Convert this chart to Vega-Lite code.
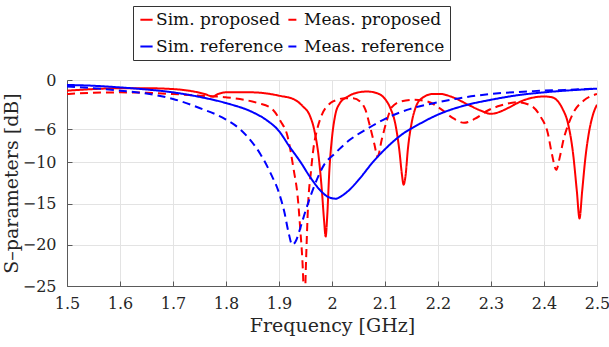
{
  "$schema": "https://vega.github.io/schema/vega-lite/v6.json",
  "width": 530,
  "height": 206,
  "autosize": "none",
  "padding": {"left": 67, "top": 80, "right": 12, "bottom": 61},
  "background": "white",
  "config": {
    "view": {"stroke": null},
    "font": "DejaVu Serif",
    "axis": {
      "labelFont": "DejaVu Serif",
      "titleFont": "DejaVu Serif",
      "labelFontSize": 16,
      "titleFontSize": 19,
      "titleFontWeight": "normal",
      "labelColor": "#262626",
      "titleColor": "#262626",
      "domainColor": "#5a5a5a",
      "tickColor": "#5a5a5a",
      "gridColor": "#e3e3e3",
      "gridWidth": 1,
      "tickSize": -5,
      "domainWidth": 1,
      "labelFlush": false
    },
    "legend": {
      "labelFont": "DejaVu Serif",
      "labelFontSize": 17,
      "labelColor": "#111111"
    }
  },
  "data": {
    "values": [
      {"f": 1.5, "s": -1.3, "series": "Sim. proposed"},
      {"f": 1.55, "s": -1.1, "series": "Sim. proposed"},
      {"f": 1.6, "s": -1.0, "series": "Sim. proposed"},
      {"f": 1.65, "s": -1.0, "series": "Sim. proposed"},
      {"f": 1.7, "s": -1.1, "series": "Sim. proposed"},
      {"f": 1.73, "s": -1.3, "series": "Sim. proposed"},
      {"f": 1.76, "s": -1.7, "series": "Sim. proposed"},
      {"f": 1.775, "s": -2.0, "series": "Sim. proposed"},
      {"f": 1.785, "s": -1.7, "series": "Sim. proposed"},
      {"f": 1.8, "s": -1.5, "series": "Sim. proposed"},
      {"f": 1.85, "s": -1.5, "series": "Sim. proposed"},
      {"f": 1.9, "s": -1.9, "series": "Sim. proposed"},
      {"f": 1.93, "s": -2.4, "series": "Sim. proposed"},
      {"f": 1.945, "s": -3.2, "series": "Sim. proposed"},
      {"f": 1.958, "s": -4.3, "series": "Sim. proposed"},
      {"f": 1.967, "s": -6.2, "series": "Sim. proposed"},
      {"f": 1.975, "s": -9.4, "series": "Sim. proposed"},
      {"f": 1.981, "s": -13.5, "series": "Sim. proposed"},
      {"f": 1.985, "s": -17.0, "series": "Sim. proposed"},
      {"f": 1.988, "s": -19.0, "series": "Sim. proposed"},
      {"f": 1.991, "s": -16.5, "series": "Sim. proposed"},
      {"f": 1.995, "s": -11.0, "series": "Sim. proposed"},
      {"f": 2.0, "s": -7.0, "series": "Sim. proposed"},
      {"f": 2.006, "s": -4.3, "series": "Sim. proposed"},
      {"f": 2.015, "s": -2.8, "series": "Sim. proposed"},
      {"f": 2.03, "s": -2.0, "series": "Sim. proposed"},
      {"f": 2.05, "s": -1.5, "series": "Sim. proposed"},
      {"f": 2.067, "s": -1.4, "series": "Sim. proposed"},
      {"f": 2.085, "s": -1.6, "series": "Sim. proposed"},
      {"f": 2.1, "s": -2.3, "series": "Sim. proposed"},
      {"f": 2.11, "s": -3.4, "series": "Sim. proposed"},
      {"f": 2.12, "s": -5.5, "series": "Sim. proposed"},
      {"f": 2.127, "s": -8.5, "series": "Sim. proposed"},
      {"f": 2.132, "s": -11.5, "series": "Sim. proposed"},
      {"f": 2.135, "s": -12.7, "series": "Sim. proposed"},
      {"f": 2.139, "s": -11.5, "series": "Sim. proposed"},
      {"f": 2.143, "s": -8.5, "series": "Sim. proposed"},
      {"f": 2.15, "s": -5.3, "series": "Sim. proposed"},
      {"f": 2.158, "s": -3.3, "series": "Sim. proposed"},
      {"f": 2.17, "s": -2.2, "series": "Sim. proposed"},
      {"f": 2.19, "s": -1.7, "series": "Sim. proposed"},
      {"f": 2.205, "s": -1.7, "series": "Sim. proposed"},
      {"f": 2.224, "s": -2.0, "series": "Sim. proposed"},
      {"f": 2.26, "s": -3.1, "series": "Sim. proposed"},
      {"f": 2.28, "s": -3.7, "series": "Sim. proposed"},
      {"f": 2.3, "s": -4.1, "series": "Sim. proposed"},
      {"f": 2.315, "s": -3.9, "series": "Sim. proposed"},
      {"f": 2.332, "s": -3.4, "series": "Sim. proposed"},
      {"f": 2.36, "s": -2.5, "series": "Sim. proposed"},
      {"f": 2.4, "s": -2.0, "series": "Sim. proposed"},
      {"f": 2.415, "s": -2.1, "series": "Sim. proposed"},
      {"f": 2.425, "s": -2.5, "series": "Sim. proposed"},
      {"f": 2.435, "s": -3.5, "series": "Sim. proposed"},
      {"f": 2.445, "s": -5.2, "series": "Sim. proposed"},
      {"f": 2.455, "s": -9.0, "series": "Sim. proposed"},
      {"f": 2.462, "s": -13.5, "series": "Sim. proposed"},
      {"f": 2.467, "s": -16.8, "series": "Sim. proposed"},
      {"f": 2.472, "s": -13.5, "series": "Sim. proposed"},
      {"f": 2.478, "s": -9.5, "series": "Sim. proposed"},
      {"f": 2.485, "s": -6.3, "series": "Sim. proposed"},
      {"f": 2.492, "s": -4.3, "series": "Sim. proposed"},
      {"f": 2.5, "s": -3.0, "series": "Sim. proposed"},

      {"f": 1.5, "s": -1.7, "series": "Meas. proposed"},
      {"f": 1.55, "s": -1.55, "series": "Meas. proposed"},
      {"f": 1.6, "s": -1.5, "series": "Meas. proposed"},
      {"f": 1.65, "s": -1.55, "series": "Meas. proposed"},
      {"f": 1.7, "s": -1.7, "series": "Meas. proposed"},
      {"f": 1.75, "s": -1.9, "series": "Meas. proposed"},
      {"f": 1.8, "s": -2.1, "series": "Meas. proposed"},
      {"f": 1.86, "s": -2.8, "series": "Meas. proposed"},
      {"f": 1.885, "s": -3.4, "series": "Meas. proposed"},
      {"f": 1.903, "s": -5.0, "series": "Meas. proposed"},
      {"f": 1.916, "s": -6.8, "series": "Meas. proposed"},
      {"f": 1.928, "s": -11.0, "series": "Meas. proposed"},
      {"f": 1.935, "s": -14.0, "series": "Meas. proposed"},
      {"f": 1.94, "s": -18.0, "series": "Meas. proposed"},
      {"f": 1.945, "s": -23.0, "series": "Meas. proposed"},
      {"f": 1.948, "s": -28.0, "series": "Meas. proposed"},
      {"f": 1.951, "s": -22.0, "series": "Meas. proposed"},
      {"f": 1.955, "s": -15.0, "series": "Meas. proposed"},
      {"f": 1.96, "s": -11.3, "series": "Meas. proposed"},
      {"f": 1.965, "s": -8.3, "series": "Meas. proposed"},
      {"f": 1.972, "s": -6.0, "series": "Meas. proposed"},
      {"f": 1.981, "s": -4.2, "series": "Meas. proposed"},
      {"f": 1.997, "s": -2.8, "series": "Meas. proposed"},
      {"f": 2.01, "s": -2.4, "series": "Meas. proposed"},
      {"f": 2.025, "s": -2.2, "series": "Meas. proposed"},
      {"f": 2.04, "s": -2.2, "series": "Meas. proposed"},
      {"f": 2.053, "s": -2.6, "series": "Meas. proposed"},
      {"f": 2.063, "s": -3.6, "series": "Meas. proposed"},
      {"f": 2.072, "s": -5.7, "series": "Meas. proposed"},
      {"f": 2.08, "s": -7.8, "series": "Meas. proposed"},
      {"f": 2.086, "s": -9.3, "series": "Meas. proposed"},
      {"f": 2.094, "s": -7.2, "series": "Meas. proposed"},
      {"f": 2.104, "s": -4.8, "series": "Meas. proposed"},
      {"f": 2.113, "s": -3.3, "series": "Meas. proposed"},
      {"f": 2.13, "s": -2.6, "series": "Meas. proposed"},
      {"f": 2.155, "s": -2.4, "series": "Meas. proposed"},
      {"f": 2.18, "s": -2.6, "series": "Meas. proposed"},
      {"f": 2.205, "s": -3.5, "series": "Meas. proposed"},
      {"f": 2.23, "s": -4.7, "series": "Meas. proposed"},
      {"f": 2.249, "s": -5.2, "series": "Meas. proposed"},
      {"f": 2.27, "s": -4.7, "series": "Meas. proposed"},
      {"f": 2.294, "s": -3.7, "series": "Meas. proposed"},
      {"f": 2.318, "s": -3.1, "series": "Meas. proposed"},
      {"f": 2.35, "s": -2.7, "series": "Meas. proposed"},
      {"f": 2.375, "s": -3.1, "series": "Meas. proposed"},
      {"f": 2.394, "s": -4.5, "series": "Meas. proposed"},
      {"f": 2.407, "s": -6.4, "series": "Meas. proposed"},
      {"f": 2.415, "s": -9.0, "series": "Meas. proposed"},
      {"f": 2.423, "s": -10.9, "series": "Meas. proposed"},
      {"f": 2.43, "s": -9.3, "series": "Meas. proposed"},
      {"f": 2.437, "s": -7.2, "series": "Meas. proposed"},
      {"f": 2.447, "s": -5.2, "series": "Meas. proposed"},
      {"f": 2.456, "s": -3.9, "series": "Meas. proposed"},
      {"f": 2.475, "s": -2.5, "series": "Meas. proposed"},
      {"f": 2.5, "s": -1.7, "series": "Meas. proposed"},

      {"f": 1.5, "s": -0.6, "series": "Sim. reference"},
      {"f": 1.55, "s": -0.7, "series": "Sim. reference"},
      {"f": 1.6, "s": -0.9, "series": "Sim. reference"},
      {"f": 1.65, "s": -1.15, "series": "Sim. reference"},
      {"f": 1.7, "s": -1.5, "series": "Sim. reference"},
      {"f": 1.75, "s": -2.05, "series": "Sim. reference"},
      {"f": 1.8, "s": -2.8, "series": "Sim. reference"},
      {"f": 1.85, "s": -3.9, "series": "Sim. reference"},
      {"f": 1.875, "s": -4.8, "series": "Sim. reference"},
      {"f": 1.9, "s": -6.2, "series": "Sim. reference"},
      {"f": 1.92, "s": -8.1, "series": "Sim. reference"},
      {"f": 1.94, "s": -9.9, "series": "Sim. reference"},
      {"f": 1.96, "s": -11.9, "series": "Sim. reference"},
      {"f": 1.978, "s": -13.4, "series": "Sim. reference"},
      {"f": 1.993, "s": -14.2, "series": "Sim. reference"},
      {"f": 2.007, "s": -14.4, "series": "Sim. reference"},
      {"f": 2.02, "s": -14.0, "series": "Sim. reference"},
      {"f": 2.035, "s": -13.2, "series": "Sim. reference"},
      {"f": 2.053, "s": -11.9, "series": "Sim. reference"},
      {"f": 2.078, "s": -9.9, "series": "Sim. reference"},
      {"f": 2.1, "s": -8.4, "series": "Sim. reference"},
      {"f": 2.13, "s": -6.7, "series": "Sim. reference"},
      {"f": 2.166, "s": -5.3, "series": "Sim. reference"},
      {"f": 2.2, "s": -4.2, "series": "Sim. reference"},
      {"f": 2.25, "s": -3.1, "series": "Sim. reference"},
      {"f": 2.3, "s": -2.4, "series": "Sim. reference"},
      {"f": 2.35, "s": -1.85, "series": "Sim. reference"},
      {"f": 2.4, "s": -1.5, "series": "Sim. reference"},
      {"f": 2.45, "s": -1.25, "series": "Sim. reference"},
      {"f": 2.5, "s": -1.05, "series": "Sim. reference"},

      {"f": 1.5, "s": -0.8, "series": "Meas. reference"},
      {"f": 1.55, "s": -1.0, "series": "Meas. reference"},
      {"f": 1.6, "s": -1.3, "series": "Meas. reference"},
      {"f": 1.65, "s": -1.65, "series": "Meas. reference"},
      {"f": 1.7, "s": -2.3, "series": "Meas. reference"},
      {"f": 1.75, "s": -3.4, "series": "Meas. reference"},
      {"f": 1.8, "s": -4.8, "series": "Meas. reference"},
      {"f": 1.827, "s": -6.0, "series": "Meas. reference"},
      {"f": 1.846, "s": -7.3, "series": "Meas. reference"},
      {"f": 1.865, "s": -9.0, "series": "Meas. reference"},
      {"f": 1.884, "s": -11.3, "series": "Meas. reference"},
      {"f": 1.9, "s": -13.7, "series": "Meas. reference"},
      {"f": 1.91, "s": -16.0, "series": "Meas. reference"},
      {"f": 1.918, "s": -18.5, "series": "Meas. reference"},
      {"f": 1.925, "s": -20.0, "series": "Meas. reference"},
      {"f": 1.932, "s": -19.5, "series": "Meas. reference"},
      {"f": 1.94, "s": -18.0, "series": "Meas. reference"},
      {"f": 1.95, "s": -15.9, "series": "Meas. reference"},
      {"f": 1.967, "s": -12.8, "series": "Meas. reference"},
      {"f": 1.985, "s": -10.3, "series": "Meas. reference"},
      {"f": 2.004, "s": -9.0, "series": "Meas. reference"},
      {"f": 2.035, "s": -7.2, "series": "Meas. reference"},
      {"f": 2.067, "s": -5.9, "series": "Meas. reference"},
      {"f": 2.104, "s": -4.6, "series": "Meas. reference"},
      {"f": 2.148, "s": -3.5, "series": "Meas. reference"},
      {"f": 2.2, "s": -2.7, "series": "Meas. reference"},
      {"f": 2.25, "s": -2.1, "series": "Meas. reference"},
      {"f": 2.3, "s": -1.7, "series": "Meas. reference"},
      {"f": 2.38, "s": -1.35, "series": "Meas. reference"},
      {"f": 2.44, "s": -1.2, "series": "Meas. reference"},
      {"f": 2.5, "s": -1.05, "series": "Meas. reference"}
    ]
  },
  "mark": {"type": "line", "strokeWidth": 2, "clip": true, "interpolate": "monotone"},
  "encoding": {
    "x": {
      "field": "f",
      "type": "quantitative",
      "scale": {"domain": [1.5, 2.5], "nice": false, "zero": false},
      "axis": {
        "title": "Frequency [GHz]",
        "values": [1.5, 1.6, 1.7, 1.8, 1.9, 2.0, 2.1, 2.2, 2.3, 2.4, 2.5],
        "labelExpr": "datum.value == 2 ? '2' : format(datum.value, '.1f')",
        "labelPadding": 14,
        "titlePadding": 5
      }
    },
    "y": {
      "field": "s",
      "type": "quantitative",
      "scale": {"domain": [-25, 0], "nice": false, "zero": false},
      "axis": {
        "title": "S\u2013parameters [dB]",
        "values": [0, -6, -10, -15, -20, -25],
        "labelPadding": 16,
        "titlePadding": 1
      }
    },
    "color": {
      "field": "series",
      "type": "nominal",
      "scale": {
        "domain": ["Sim. proposed", "Meas. proposed", "Sim. reference", "Meas. reference"],
        "range": ["#ff0000", "#ff0000", "#0000ff", "#0000ff"]
      },
      "legend": {
        "title": null,
        "orient": "none",
        "legendX": 66,
        "legendY": -74,
        "columns": 2,
        "direction": "horizontal",
        "symbolType": "stroke",
        "symbolSize": 150,
        "symbolStrokeWidth": 2,
        "labelOffset": 1,
        "columnPadding": 0,
        "rowPadding": 9,
        "padding": 5,
        "strokeColor": "#333333",
        "fillColor": "white",
        "symbolOffset": 0,
        "encode": {
          "symbols": {
            "update": {
              "strokeDash": {"signal": "indexof(datum.value, 'Meas') == 0 ? [4, 2] : [1, 0]"}
            }
          }
        }
      }
    },
    "strokeDash": {
      "field": "series",
      "type": "nominal",
      "scale": {
        "domain": ["Sim. proposed", "Meas. proposed", "Sim. reference", "Meas. reference"],
        "range": [[1, 0], [8, 5], [1, 0], [8, 5]]
      },
      "legend": {
        "title": null,
        "orient": "none",
        "legendX": 66,
        "legendY": -74,
        "columns": 2,
        "direction": "horizontal",
        "symbolType": "stroke",
        "symbolSize": 150,
        "symbolStrokeWidth": 2,
        "labelOffset": 1,
        "columnPadding": 0,
        "rowPadding": 9,
        "padding": 5,
        "strokeColor": "#333333",
        "fillColor": "white",
        "symbolOffset": 0,
        "encode": {
          "symbols": {
            "update": {
              "strokeDash": {"signal": "indexof(datum.value, 'Meas') == 0 ? [4, 2] : [1, 0]"}
            }
          }
        }
      }
    }
  }
}
